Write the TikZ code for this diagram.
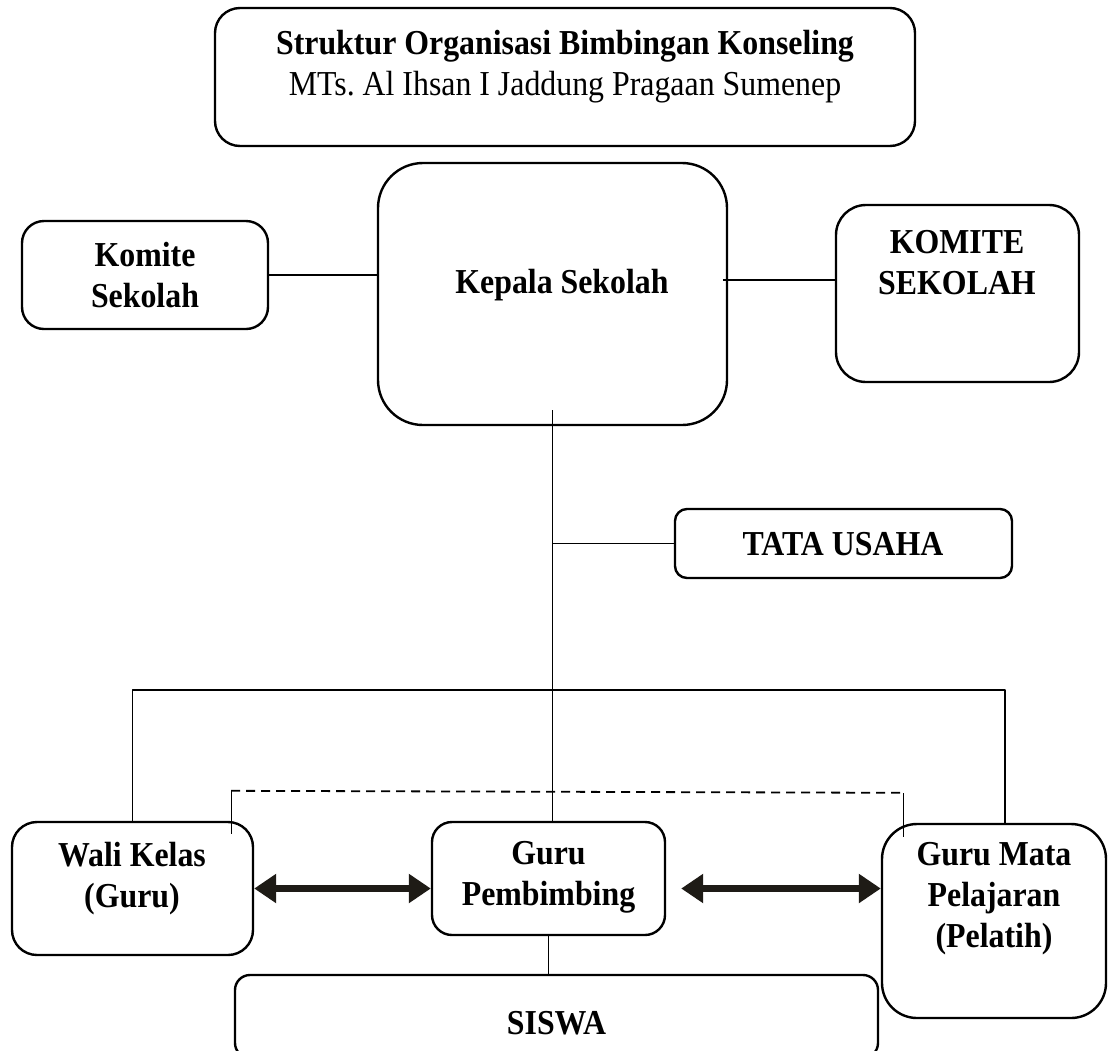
\documentclass[tikz,border=0pt]{standalone}
\usepackage{fontspec}
\setmainfont[FakeStretch=0.91]{Liberation Serif}
\usetikzlibrary{arrows.meta,calc}
\definecolor{panahhitam}{RGB}{30,27,22}
\tikzset{
  kotak/.style={draw,line width=2.4pt,rounded corners=#1,inner sep=0pt},
  teks/.style={font=\fontsize{35}{41}\selectfont\bfseries,align=center,inner sep=0pt},
  garis/.style={line width=1.3pt},
  panah/.style={line width=7pt,draw=panahhitam,
    {Triangle[length=22pt,width=28pt]}-{Triangle[length=22pt,width=28pt]}}
}

\begin{document}
\begin{tikzpicture}[x=1pt,y=-1pt,line cap=butt,line join=round]
  \useasboundingbox (0,0) rectangle (1119,1050);
  \clip (0,0) rectangle (1119,1050);
  % kotak-kotak
  \node[kotak=25pt,minimum width=700pt,minimum height=138pt] (judul) at (565,77) {};
  \node[kotak=22pt,minimum width=246pt,minimum height=108pt] (komite) at (145,275) {};
  \node[kotak=45pt,minimum width=349pt,minimum height=262pt] (kepala) at (552.5,294) {};
  \node[kotak=30pt,minimum width=243pt,minimum height=177pt] (komite2) at (957.5,293.5) {};
  \node[kotak=12pt,minimum width=337pt,minimum height=69pt] (tata) at (843.5,543.5) {};
  \node[kotak=25pt,minimum width=241pt,minimum height=133pt] (wali) at (132.5,888.5) {};
  \node[kotak=20pt,minimum width=233pt,minimum height=113pt] (guru) at (548.5,878.5) {};
  \node[kotak=35pt,minimum width=224pt,minimum height=194pt] (mapel) at (994,921) {};
  \node[kotak=15pt,minimum width=643pt,minimum height=83pt] (siswa) at (556.5,1016.5) {};
  % tulisan
  \node[teks] (t-judul) at (565,67) {Struktur Organisasi Bimbingan Konseling\\ {\mdseries MTs.\ Al Ihsan I Jaddung Pragaan Sumenep}};
  \node[teks] (t-komite) at (145,275.5) {Komite\\Sekolah};
  \node[teks] (t-kepala) at (562,285) {Kepala Sekolah};
  \node[teks] (t-komite2) at (957,263) {KOMITE\\SEKOLAH};
  \node[teks] (t-tata) at (843,544) {TATA USAHA};
  \node[teks] (t-wali) at (132,878.5) {Wali Kelas\\(Guru)};
  \node[teks] (t-guru) at (548.5,877.5) {Guru\\Pembimbing};
  \node[teks] (t-mapel) at (994,899) {Guru Mata\\Pelajaran\\(Pelatih)};
  \node[teks] (t-siswa) at (556.5,1023) {SISWA};
  % garis penghubung
  \draw[garis] (komite.east) -- (komite.east -| kepala.west);
  \coordinate (kk) at ($(kepala.east)+(-5,-14)$);
  \draw[garis] (kk) -- (kk -| komite2.west);
  \draw[garis] ($(kepala.south)+(0,-16)$) -- (kepala.south |- guru.north);
  \draw[garis] (kepala.south |- tata.west) -- (tata.west);
  \coordinate (cabang) at (kepala.south |- 0,690);
  \draw[garis] (wali.north) |- (cabang) -| ($(mapel.north)+(11,0)$);
  \draw[garis] ($(wali.north east)+(-23,13)$) -- ++(0,-43) coordinate (putus1);
  \draw[garis] ($(mapel.north west)+(23,14)$) -- ++(0,-44) coordinate (putus2);
  \draw[garis,line width=1.8pt,dash pattern=on 9pt off 6pt] (putus1) -- (putus2);
  \draw[garis] (guru.south) -- (guru.south |- siswa.north);
  % panah dua arah
  \draw[panah] (wali.east) -- (wali.east -| guru.west);
  \draw[panah] ($(guru.east |- wali.east)+(15,0)$) -- (wali.east -| mapel.west);
\end{tikzpicture}
\end{document}
